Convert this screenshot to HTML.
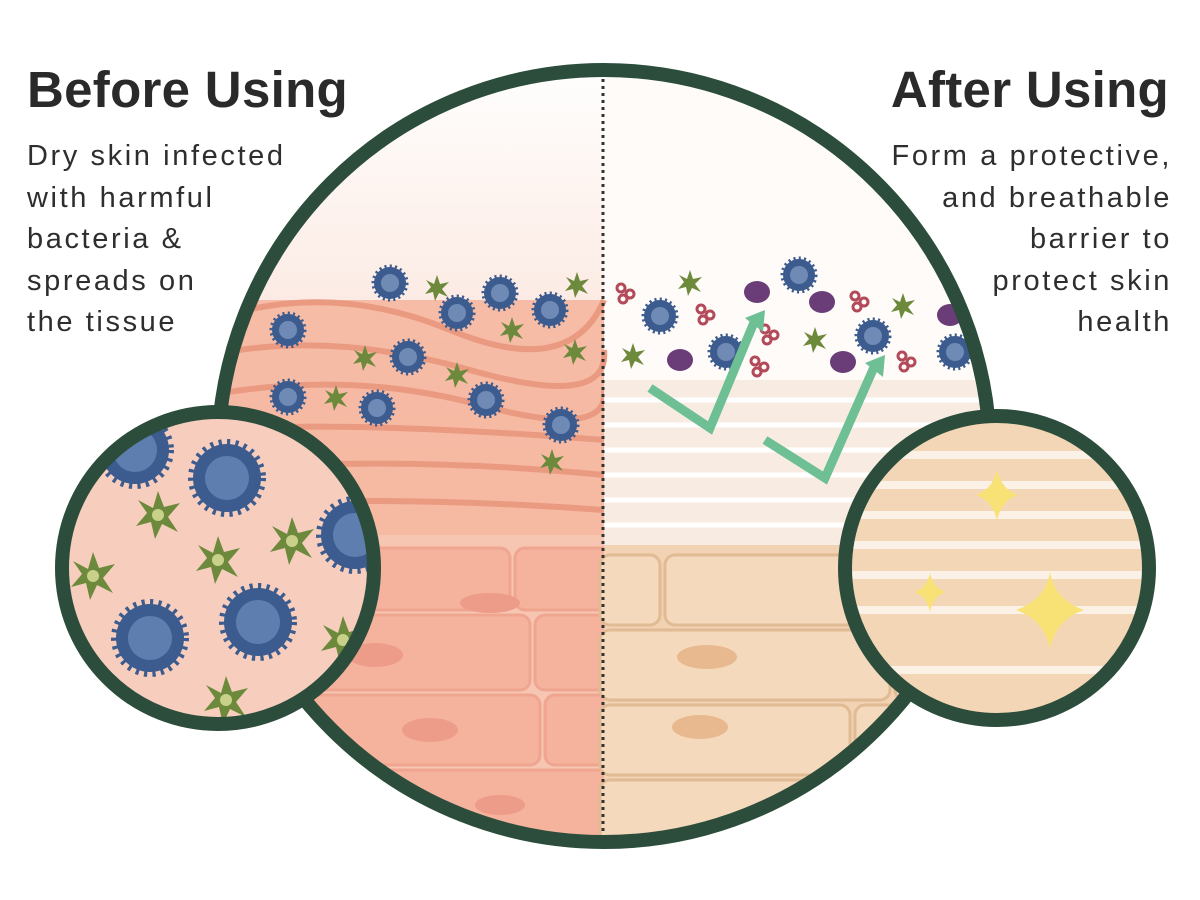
<!DOCTYPE html>
<html><head><meta charset="utf-8"><style>
body{margin:0;background:#fff;width:1200px;height:900px;overflow:hidden;font-family:"Liberation Sans",sans-serif;}
h1{position:absolute;margin:0;font-size:51px;font-weight:bold;color:#2a2a2a;letter-spacing:0.3px;line-height:56px}
p{position:absolute;margin:0;font-size:29px;line-height:41.5px;color:#2e2e2e;letter-spacing:2.6px}
</style></head><body>
<svg width="1200" height="900" style="position:absolute;left:0;top:0">
<defs>
<clipPath id="big"><circle cx="604" cy="456" r="386"/></clipPath>
<clipPath id="sl"><circle cx="218" cy="568" r="156"/></clipPath>
<clipPath id="sr"><circle cx="997" cy="568" r="152"/></clipPath>
<linearGradient id="lt" x1="0" y1="0" x2="0" y2="1"><stop offset="0" stop-color="#fff"/><stop offset="0.3" stop-color="#fcebe4"/><stop offset="0.5" stop-color="#f7c9b8"/><stop offset="1" stop-color="#f4b9a4"/></linearGradient>
<g id="bac"><circle r="16" fill="#3c5b8e" stroke="#3c5b8e" stroke-width="5" stroke-dasharray="2 3"/><circle r="9" fill="#6f8ab5"/></g>
<g id="star"><polygon points="0,-13 3,-4 12,-6 5,1 11,9 2,5 -2,13 -4,4 -12,6 -6,-1 -11,-8 -3,-4" fill="#6d8a3c"/></g>
<g id="bigbac"><circle r="34" fill="#3c5b8e" stroke="#3c5b8e" stroke-width="10" stroke-dasharray="3 5"/><circle r="22" fill="#5f7eb0"/></g>
<g id="bigstar"><polygon points="0,-24 6,-8 22,-12 10,2 20,17 4,9 -3,24 -7,7 -22,11 -11,-2 -20,-15 -5,-7" fill="#6d8a3c"/><circle r="6" fill="#c9d08a"/></g>
<g id="pur"><ellipse rx="13" ry="11" fill="#6a3c78"/></g>
<g id="red"><circle cx="-5" cy="-4" r="4" fill="none" stroke="#b24a5a" stroke-width="3"/><circle cx="4" cy="2" r="4" fill="none" stroke="#b24a5a" stroke-width="3"/><circle cx="-3" cy="7" r="4" fill="none" stroke="#b24a5a" stroke-width="3"/></g>
</defs>
<g clip-path="url(#big)">
<rect x="200" y="60" width="404" height="800" fill="url(#lt)"/>
<rect x="604" y="60" width="420" height="800" fill="#fefbf8"/>
<rect x="200" y="300" width="404" height="240" fill="#f5b7a0" opacity="0.9"/>
<g stroke="#eb9a82" stroke-width="6" fill="none">
<path d="M210 320 Q330 280 450 330 T604 300"/><path d="M210 355 Q330 330 470 370 T604 350"/><path d="M210 395 Q350 370 480 405 T604 390"/><path d="M210 430 Q350 420 604 440"/><path d="M210 470 Q400 455 604 475"/><path d="M210 505 Q400 495 604 510"/>
</g>
<rect x="200" y="535" width="404" height="320" fill="#f7c6b2"/>
<g fill="#f5b29c" stroke="#efa58f" stroke-width="3">
<rect x="200" y="548" width="310" height="62" rx="10"/><rect x="515" y="548" width="100" height="62" rx="10"/>
<rect x="270" y="615" width="260" height="75" rx="10"/><rect x="200" y="615" width="65" height="75" rx="10"/><rect x="535" y="615" width="80" height="75" rx="10"/>
<rect x="200" y="695" width="340" height="70" rx="10"/><rect x="545" y="695" width="70" height="70" rx="10"/>
<rect x="200" y="770" width="420" height="90" rx="10"/>
</g>
<g fill="#ee9c8a"><ellipse cx="490" cy="603" rx="30" ry="10"/><ellipse cx="375" cy="655" rx="28" ry="12"/><ellipse cx="430" cy="730" rx="28" ry="12"/><ellipse cx="500" cy="805" rx="25" ry="10"/></g>
<rect x="604" y="380" width="420" height="170" fill="#f8ebe2"/>
<g stroke="#fff" stroke-width="5"><line x1="604" y1="400" x2="1020" y2="400"/><line x1="604" y1="425" x2="1020" y2="425"/><line x1="604" y1="450" x2="1020" y2="450"/><line x1="604" y1="475" x2="1020" y2="475"/><line x1="604" y1="500" x2="1020" y2="500"/><line x1="604" y1="525" x2="1020" y2="525"/></g>
<rect x="604" y="545" width="420" height="310" fill="#f1d2b2"/>
<g fill="#f5d9bc" stroke="#e0bb94" stroke-width="3">
<rect x="600" y="555" width="60" height="70" rx="10"/><rect x="665" y="555" width="330" height="70" rx="10"/>
<rect x="600" y="630" width="290" height="70" rx="10"/><rect x="895" y="630" width="130" height="70" rx="10"/>
<rect x="600" y="705" width="250" height="70" rx="10"/><rect x="855" y="705" width="170" height="70" rx="10"/>
<rect x="600" y="780" width="420" height="80" rx="10"/>
</g>
<g fill="#e8b98f"><ellipse cx="707" cy="657" rx="30" ry="12"/><ellipse cx="700" cy="727" rx="28" ry="12"/></g>
<use href="#bac" x="390" y="283"/><use href="#bac" x="457" y="313"/><use href="#bac" x="500" y="293"/><use href="#bac" x="550" y="310"/><use href="#bac" x="288" y="330"/><use href="#bac" x="408" y="357"/><use href="#bac" x="288" y="397"/><use href="#bac" x="377" y="408"/><use href="#bac" x="486" y="400"/><use href="#bac" x="561" y="425"/>
<use href="#star" x="437" y="288"/><use href="#star" x="577" y="285"/><use href="#star" x="512" y="330"/><use href="#star" x="365" y="358"/><use href="#star" x="457" y="375"/><use href="#star" x="575" y="352"/><use href="#star" x="336" y="398"/><use href="#star" x="552" y="462"/>
<use href="#red" x="626" y="292"/><use href="#star" x="690" y="283"/><use href="#bac" x="660" y="316"/><use href="#red" x="706" y="313"/><use href="#pur" x="757" y="292"/><use href="#bac" x="799" y="275"/><use href="#pur" x="822" y="302"/><use href="#red" x="860" y="300"/><use href="#star" x="903" y="306"/><use href="#pur" x="950" y="315"/><use href="#star" x="633" y="356"/><use href="#pur" x="680" y="360"/><use href="#bac" x="726" y="352"/><use href="#red" x="770" y="333"/><use href="#star" x="815" y="340"/><use href="#bac" x="873" y="336"/><use href="#pur" x="843" y="362"/><use href="#red" x="760" y="365"/><use href="#red" x="907" y="360"/><use href="#bac" x="955" y="352"/>
<g stroke="#6fbf94" stroke-width="9" fill="none"><polyline points="650,388 710,428 755,320"/><polyline points="765,440 825,478 875,365"/></g>
<g fill="#6fbf94"><polygon points="745,318 765,310 763,332"/><polygon points="865,363 885,355 883,377"/></g>
</g>
<line x1="603" y1="72" x2="603" y2="842" stroke="#333" stroke-width="3" stroke-dasharray="3 4"/>
<circle cx="604" cy="456" r="386" fill="none" stroke="#2c4d3b" stroke-width="14"/>
<g clip-path="url(#sl)"><rect x="50" y="400" width="340" height="340" fill="#f7cdbd"/>
<use href="#bigbac" x="135" y="450"/><use href="#bigbac" x="227" y="478"/><use href="#bigbac" x="355" y="535"/><use href="#bigbac" x="150" y="638"/><use href="#bigbac" x="258" y="622"/>
<use href="#bigstar" x="158" y="515"/><use href="#bigstar" x="218" y="560"/><use href="#bigstar" x="93" y="576"/><use href="#bigstar" x="292" y="541"/><use href="#bigstar" x="343" y="640"/><use href="#bigstar" x="226" y="700"/></g>
<circle cx="218" cy="568" r="156" fill="none" stroke="#2c4d3b" stroke-width="14"/>
<g clip-path="url(#sr)"><rect x="840" y="410" width="320" height="320" fill="#f2d6b6"/>
<g stroke="#fbf1e6" stroke-width="8"><line x1="840" y1="455" x2="1160" y2="455"/><line x1="840" y1="485" x2="1160" y2="485"/><line x1="840" y1="515" x2="1160" y2="515"/><line x1="840" y1="545" x2="1160" y2="545"/><line x1="840" y1="575" x2="1160" y2="575"/><line x1="840" y1="610" x2="1160" y2="610"/><line x1="840" y1="670" x2="1160" y2="670"/></g>
<g fill="#f9e275"><path d="M997 470 Q1002 490 1018 495 Q1002 500 997 520 Q992 500 976 495 Q992 490 997 470Z"/><path d="M930 573 Q933 588 946 592 Q933 596 930 612 Q927 596 914 592 Q927 588 930 573Z"/><path d="M1050 572 Q1055 600 1084 610 Q1055 620 1050 650 Q1045 620 1016 610 Q1045 600 1050 572Z"/></g></g>
<circle cx="997" cy="568" r="152" fill="none" stroke="#2c4d3b" stroke-width="14"/>
</svg>
<h1 style="left:27px;top:62px">Before Using</h1>
<p style="left:27px;top:136px">Dry skin infected<br>with harmful<br>bacteria &amp;<br>spreads on<br>the tissue</p>
<h1 style="right:31px;top:62px;text-align:right">After Using</h1>
<p style="right:28px;top:136px;text-align:right">Form a protective,<br>and breathable<br>barrier to<br>protect skin<br>health</p>
</body></html>
